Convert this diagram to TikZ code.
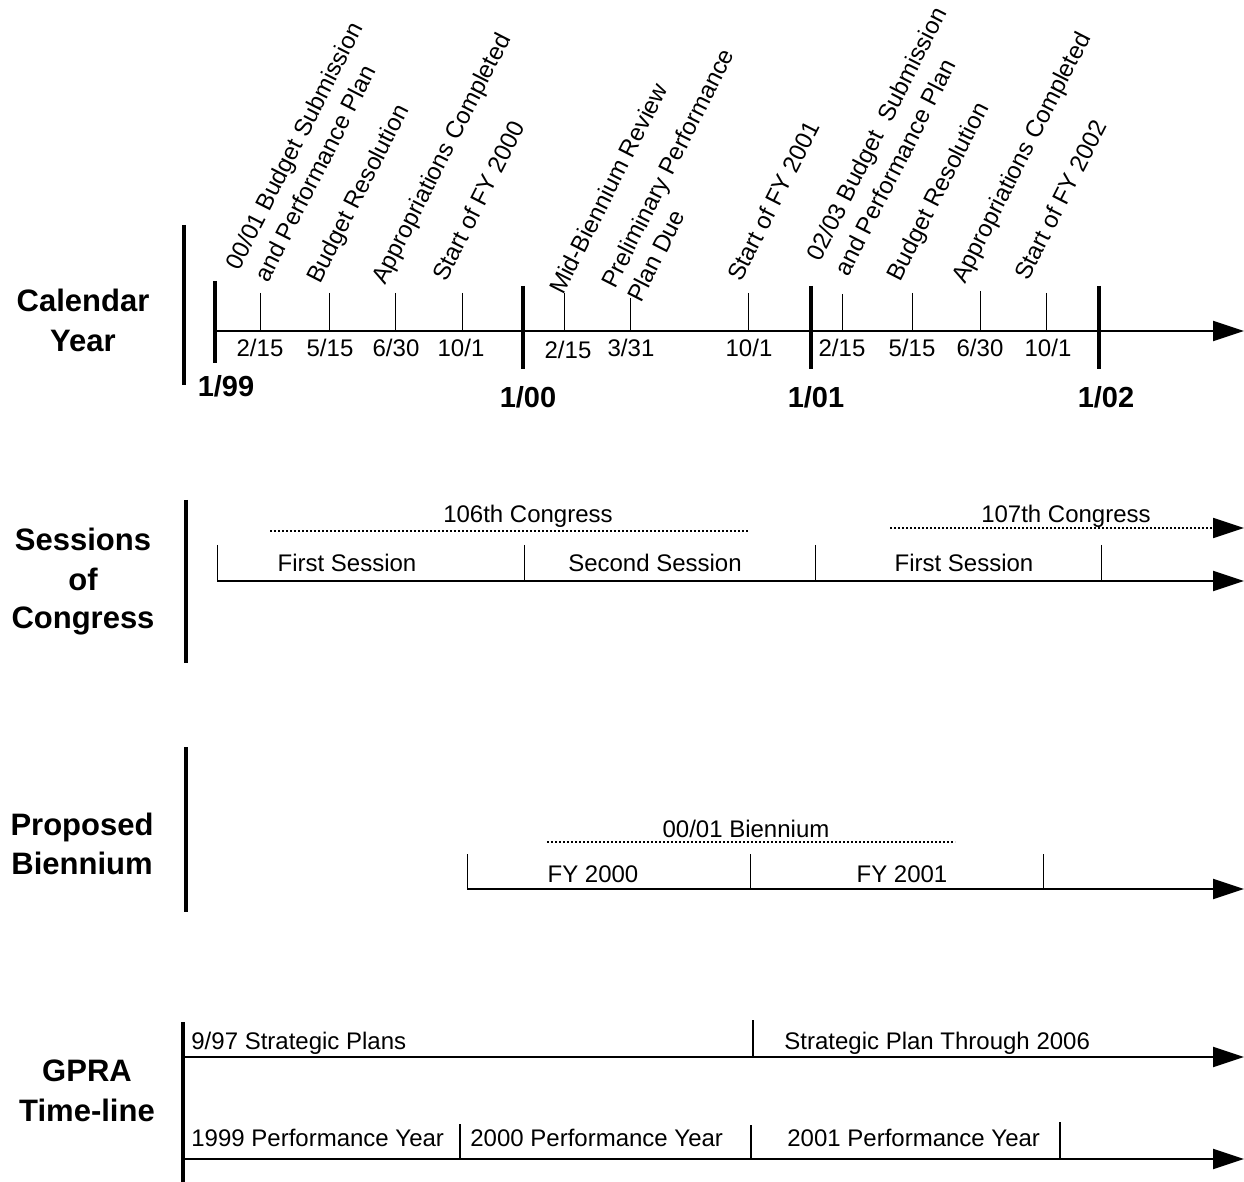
\documentclass[tikz,border=0pt]{standalone}
\usepackage{fontspec}
\setmainfont{Liberation Sans}
\usetikzlibrary{arrows.meta}
\tikzset{
  lbl/.style={font=\fontsize{12}{14}\selectfont, inner sep=0pt},
  clbl/.style={lbl, anchor=base},
  llbl/.style={lbl, anchor=base west},
  rlbl/.style={lbl, xshift=4.5pt, yshift=-2pt, rotate=63, anchor=base west},
  head/.style={font=\bfseries\fontsize{15.5}{18}\selectfont, inner sep=0pt, anchor=base},
  yr/.style={font=\bfseries\fontsize{14.5}{17}\selectfont, inner sep=0pt, anchor=base},
  tip/.style={-{Triangle[length=15.5pt,width=10pt]}},
  axis/.style={line width=1pt, tip},
  bar/.style={line width=1.75pt},
  yeartick/.style={line width=2pt},
  tick/.style={line width=0.5pt},
  gtick/.style={line width=0.75pt},
  dots/.style={line width=0.9pt, dash pattern=on 0.9pt off 1.1pt},
}
\begin{document}
\begin{tikzpicture}[x=0.5pt,y=-0.5pt]
\useasboundingbox (0,0) rectangle (1244,1182);

% ---------------- Calendar Year ----------------
\node[head] (h1a) at (83,312) {Calendar};
\node[head] (h1b) at (83,352) {Year};
\draw[bar] (184,225) -- (184,385);
\coordinate (ca) at (215,331);
\coordinate (cb) at (1244,331);
\draw[axis] (ca) -- (cb);
\foreach \x/\a/\b in {215/281/363, 523/286/369, 811/286/369, 1099/286/369}
  \draw[yeartick] (\x,\a) -- (\x,\b);
\foreach \x/\t in {260/293, 329/293, 395/293, 462/293, 564/293, 630/298, 748/293, 842/294, 912/293, 980/291, 1046/293}
  \draw[tick] (\x,\t) -- (\x,331);

\node[clbl] (d1) at (260,357) {2/15};
\node[clbl] (d2) at (330,357) {5/15};
\node[clbl] (d3) at (396,357) {6/30};
\node[clbl] (d4) at (461,357) {10/1};
\node[clbl] (d5) at (568,359) {2/15};
\node[clbl] (d6) at (631,357) {3/31};
\node[clbl] (d7) at (749,357) {10/1};
\node[clbl] (d8) at (842,357) {2/15};
\node[clbl] (d9) at (912,357) {5/15};
\node[clbl] (d10) at (980,357) {6/30};
\node[clbl] (d11) at (1048,357) {10/1};

\node[yr] (y99) at (226,397) {1/99};
\node[yr] (y00) at (528,408) {1/00};
\node[yr] (y01) at (816,408) {1/01};
\node[yr] (y02) at (1106,408) {1/02};

\node[rlbl] (c1a) at (230,268) {00/01 Budget Submission};
\node[rlbl] (c1b) at (259,280) {and Performance Plan};
\node[rlbl] (c2) at (311,281) {Budget Resolution};
\node[rlbl] (c3) at (376,282) {Appropriations Completed};
\node[rlbl] (c4) at (437,279) {Start of FY 2000};
\node[rlbl] (c5) at (554,292) {Mid-Biennium Review};
\node[rlbl] (c6a) at (606,286) {Preliminary Performance};
\node[rlbl] (c6b) at (632,300) {Plan Due};
\node[rlbl] (c7) at (732,279) {Start of FY 2001};
\node[rlbl] (c8a) at (811,259) {02/03 Budget\ \ Submission};
\node[rlbl] (c8b) at (839,274) {and Performance Plan};
\node[rlbl] (c9) at (891,279) {Budget Resolution};
\node[rlbl] (c10) at (956,281) {Appropriations Completed};
\node[rlbl] (c11) at (1019,278) {Start of FY 2002};

% ---------------- Sessions of Congress ----------------
\node[head] (h2a) at (83,551) {Sessions};
\node[head] (h2b) at (83,590) {of};
\node[head] (h2c) at (83,628) {Congress};
\draw[bar] (186,500) -- (186,663);
\node[clbl] (s106) at (528,523) {106th Congress};
\node[clbl] (s107) at (1066,523) {107th Congress};
\coordinate (s106a) at (270,531);
\coordinate (s106b) at (748,531);
\draw[dots] (s106a) -- (s106b);
\coordinate (s107a) at (890,528);
\coordinate (s107b) at (1244,528);
\draw[dots, tip] (s107a) -- (s107b);
\coordinate (sa) at (217,581);
\coordinate (sb) at (1244,581);
\draw[axis] (sa) -- (sb);
\foreach \x in {217, 524, 815, 1101}
  \draw[tick] (\x,545) -- (\x,581);
\node[clbl] (ss1) at (347,572) {First Session};
\node[clbl] (ss2) at (655,572) {Second Session};
\node[clbl] (ss3) at (964,572) {First Session};

% ---------------- Proposed Biennium ----------------
\node[head] (h3a) at (82,835) {Proposed};
\node[head] (h3b) at (82,874) {Biennium};
\draw[bar] (186,747) -- (186,912);
\node[clbl] (bi) at (746,837) {00/01 Biennium};
\coordinate (bda) at (547,842);
\coordinate (bdb) at (955,842);
\draw[dots] (bda) -- (bdb);
\coordinate (ba) at (467,889);
\coordinate (bb) at (1244,889);
\draw[axis] (ba) -- (bb);
\foreach \x in {467, 750, 1043}
  \draw[tick] (\x,854) -- (\x,889);
\node[clbl] (fy0) at (593,882) {FY 2000};
\node[clbl] (fy1) at (902,882) {FY 2001};

% ---------------- GPRA Time-line ----------------
\node[head] (h4a) at (87,1081) {GPRA};
\node[head] (h4b) at (87,1121) {Time-line};
\draw[bar] (183,1022) -- (183,1182);
\coordinate (ga) at (183,1057);
\coordinate (gb) at (1244,1057);
\draw[axis] (ga) -- (gb);
\coordinate (gc) at (183,1159);
\coordinate (gd) at (1244,1159);
\draw[axis] (gc) -- (gd);
\draw[gtick] (753,1020) -- (753,1057);
\draw[gtick] (460,1124) -- (460,1159);
\draw[gtick] (751,1125) -- (751,1159);
\draw[gtick] (1060,1122) -- (1060,1159);
\node[llbl] (g1) at (191,1049) {9/97 Strategic Plans};
\node[llbl] (g2) at (784,1049) {Strategic Plan Through 2006};
\node[llbl] (g3) at (191,1146) {1999 Performance Year};
\node[llbl] (g4) at (470,1146) {2000 Performance Year};
\node[llbl] (g5) at (787,1146) {2001 Performance Year};
\end{tikzpicture}
\end{document}
